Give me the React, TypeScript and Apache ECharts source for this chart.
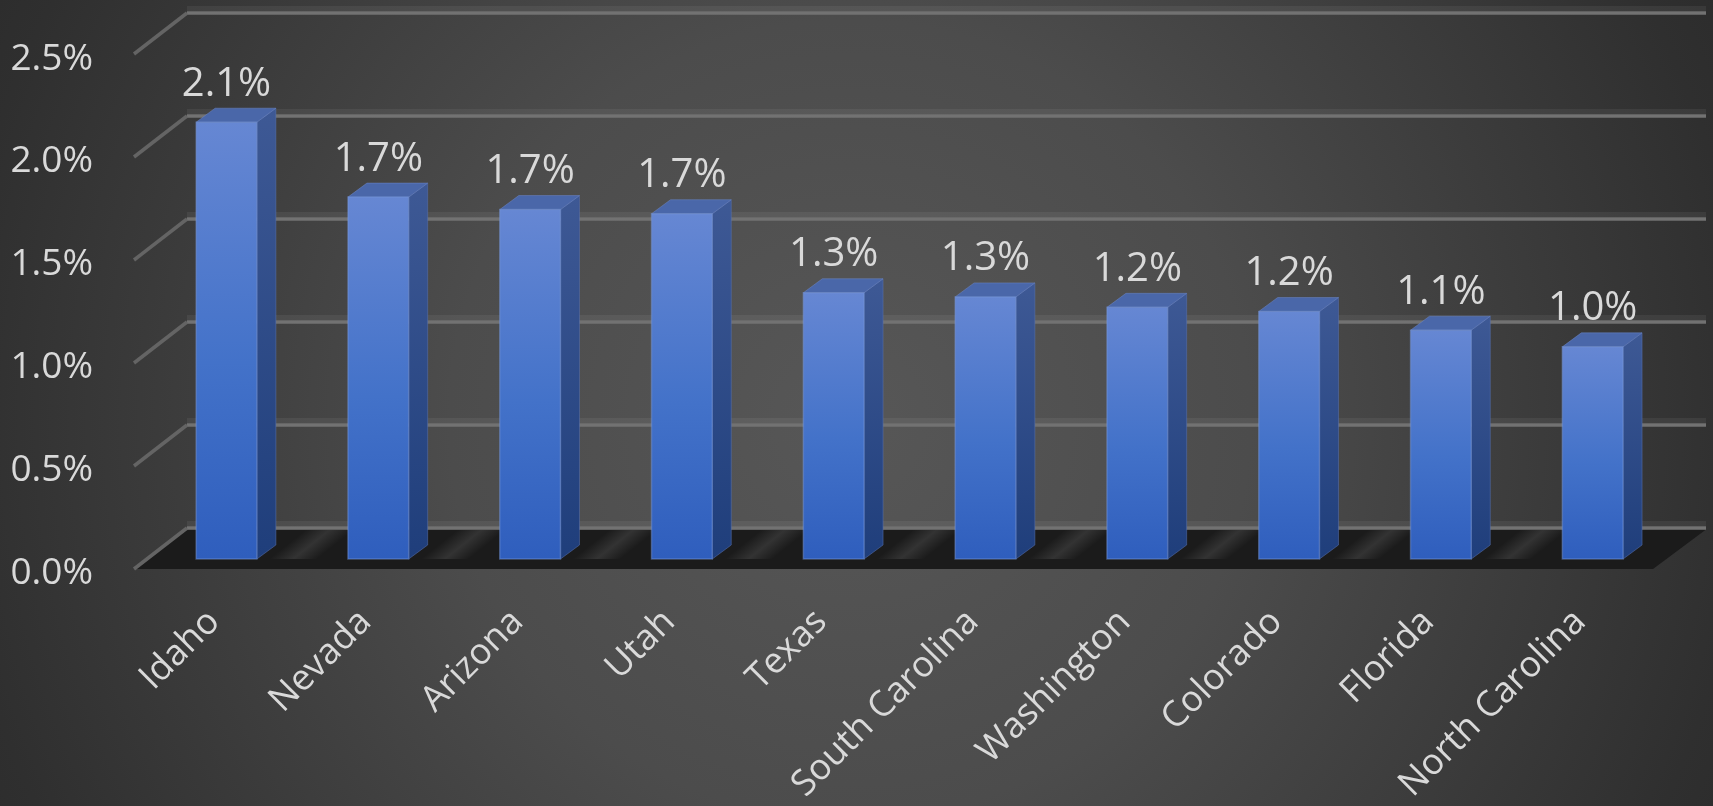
import React, { useEffect, useRef } from 'react';
import * as echarts from 'echarts';

// Population growth by state
const states = [
  'Idaho',
  'Nevada',
  'Arizona',
  'Utah',
  'Texas',
  'South Carolina',
  'Washington',
  'Colorado',
  'Florida',
  'North Carolina',
];
const growth = [2.1, 1.74, 1.68, 1.66, 1.28, 1.26, 1.21, 1.19, 1.1, 1.02];
const wallTicks = [0, 0.5, 1.0, 1.5, 2.0, 2.5];

const FONT = '"Open Sans", "Noto Sans", sans-serif';
const TEXT = '#d9d9d9';
const BAR_DEPTH = [19, -14]; // side/top face offset of each bar
const WALL_TO_FRONT = [-53, 41]; // from back wall to front edge of the floor
const BAR_RATIO = 0.4;

const pct = (v: number) => (Math.round(v * 10) / 10).toFixed(1) + '%';

export default function App() {
  const ref = useRef<HTMLDivElement>(null);

  useEffect(() => {
    if (!ref.current) return;
    const chart = echarts.init(ref.current, undefined, { renderer: 'svg' });

    const option: any = {
      animation: false,
      backgroundColor: {
        type: 'radial',
        x: 850,
        y: 420,
        r: 1000,
        global: true,
        colorStops: [
          { offset: 0, color: '#575757' },
          { offset: 0.4, color: '#4c4c4c' },
          { offset: 0.9, color: '#2f2f2f' },
          { offset: 1, color: '#2b2b2b' },
        ],
      },
      grid: [
        // back wall
        { left: 187, right: 7, top: 13, height: 515 },
        // plane of the bar fronts
        { left: 150.6, width: 1518, top: 39, height: 520 },
        // front edge carrying the value labels
        { left: 133, width: 10, top: 55, height: 514 },
      ],
      xAxis: [
        { gridIndex: 0, type: 'value', min: 0, max: 1, show: false },
        {
          gridIndex: 1,
          type: 'category',
          data: states,
          axisLine: { show: false },
          axisTick: { show: false },
          axisLabel: {
            interval: 0,
            rotate: 45,
            margin: 40,
            padding: [0, 21, 0, 0],
            color: TEXT,
            fontSize: 36,
            fontFamily: FONT,
          },
        },
        { gridIndex: 2, type: 'value', min: 0, max: 1, show: false },
      ],
      yAxis: [
        { gridIndex: 0, type: 'value', min: 0, max: 2.5, interval: 0.5, show: false },
        { gridIndex: 1, type: 'value', min: 0, max: 2.5, show: false },
        {
          gridIndex: 2,
          type: 'value',
          min: 0,
          max: 2.5,
          interval: 0.5,
          axisLine: { show: false },
          axisTick: { show: false },
          splitLine: { show: false },
          axisLabel: {
            margin: 40,
            color: TEXT,
            fontSize: 37,
            fontFamily: FONT,
            formatter: (v: number) => v.toFixed(1) + '%',
          },
        },
      ],
      series: [
        {
          // floor
          type: 'custom',
          xAxisIndex: 0,
          yAxisIndex: 0,
          z: 1,
          silent: true,
          data: [[0, 0]],
          renderItem: (_p: any, api: any) => {
            const bl = api.coord([0, 0]);
            const br = api.coord([1, 0]);
            return {
              type: 'polygon',
              shape: {
                points: [
                  [bl[0], bl[1] + 1.5],
                  [br[0], br[1] + 1.5],
                  [br[0] + WALL_TO_FRONT[0], br[1] + WALL_TO_FRONT[1]],
                  [bl[0] + WALL_TO_FRONT[0], bl[1] + WALL_TO_FRONT[1]],
                ],
              },
              style: { fill: '#1b1b1b' },
            };
          },
        },
        {
          // soft light streaks on the floor between bars
          type: 'custom',
          xAxisIndex: 1,
          yAxisIndex: 1,
          z: 2,
          silent: true,
          data: states.slice(0, -1).map((_s, i) => [i, 0]),
          renderItem: (_p: any, api: any) => {
            const i = api.value(0);
            const c = api.coord([i, 0]);
            const band = api.size([1, 0])[0];
            const bw = band * BAR_RATIO;
            const gapL = c[0] + bw / 2 + BAR_DEPTH[0];
            const gapR = c[0] + band - bw / 2;
            const xc = (gapL + gapR) / 2;
            const k = -WALL_TO_FRONT[0] / WALL_TO_FRONT[1];
            const yTop = c[1] - 29;
            const yBot = c[1];
            const hw = 24;
            const midY = c[1] - 15;
            const topX = xc + (midY - yTop) * k;
            const botX = xc - (yBot - midY) * k;
            const n = [0.62, 0.78];
            const d = 15;
            const grad = new echarts.graphic.LinearGradient(
              xc - n[0] * d,
              midY - n[1] * d,
              xc + n[0] * d,
              midY + n[1] * d,
              [
                { offset: 0, color: 'rgba(75,75,75,0)' },
                { offset: 0.5, color: 'rgba(75,75,75,0.5)' },
                { offset: 1, color: 'rgba(75,75,75,0)' },
              ],
              true
            );
            return {
              type: 'polygon',
              shape: {
                points: [
                  [topX - hw, yTop],
                  [topX + hw, yTop],
                  [botX + hw, yBot],
                  [botX - hw, yBot],
                ],
              },
              style: { fill: grad },
            };
          },
        },
        {
          // back-wall gridlines and their side-wall diagonals
          type: 'custom',
          xAxisIndex: 0,
          yAxisIndex: 0,
          z: 3,
          silent: true,
          data: wallTicks.map((v) => [0, v]),
          renderItem: (_p: any, api: any) => {
            const v = api.value(1);
            const l = api.coord([0, v]);
            const r = api.coord([1, v]);
            return {
              type: 'group',
              children: [
                {
                  type: 'rect',
                  shape: { x: l[0], y: l[1] - 7, width: r[0] - l[0], height: 5 },
                  style: { fill: 'rgba(255,255,255,0.06)' },
                },
                {
                  type: 'line',
                  shape: { x1: l[0], y1: l[1], x2: r[0], y2: r[1] },
                  style: { stroke: '#727272', lineWidth: 3.5 },
                },
                {
                  type: 'line',
                  shape: {
                    x1: l[0],
                    y1: l[1],
                    x2: l[0] + WALL_TO_FRONT[0],
                    y2: l[1] + WALL_TO_FRONT[1],
                  },
                  style: { stroke: '#646464', lineWidth: 3.5 },
                },
              ],
            };
          },
        },
        {
          // 3D bars with value labels
          type: 'custom',
          xAxisIndex: 1,
          yAxisIndex: 1,
          z: 4,
          data: growth.map((v, i) => [i, v]),
          renderItem: (_p: any, api: any) => {
            const i = api.value(0);
            const v = api.value(1);
            const base = api.coord([i, 0]);
            const top = api.coord([i, v]);
            const bw = api.size([1, 0])[0] * BAR_RATIO;
            const xl = base[0] - bw / 2;
            const xr = base[0] + bw / 2;
            const [dx, dy] = BAR_DEPTH;
            const edge = 'rgba(120,150,215,0.45)';
            return {
              type: 'group',
              children: [
                {
                  type: 'polygon',
                  shape: {
                    points: [
                      [xr, top[1]],
                      [xr + dx, top[1] + dy],
                      [xr + dx, base[1] + dy],
                      [xr, base[1]],
                    ],
                  },
                  style: {
                    fill: new echarts.graphic.LinearGradient(0, 0, 0, 1, [
                      { offset: 0, color: '#3e5995' },
                      { offset: 1, color: '#1f3e7b' },
                    ]),
                    stroke: 'rgba(90,115,180,0.5)',
                    lineWidth: 1,
                  },
                },
                {
                  type: 'polygon',
                  shape: {
                    points: [
                      [xl, top[1]],
                      [xl + dx, top[1] + dy],
                      [xr + dx, top[1] + dy],
                      [xr, top[1]],
                    ],
                  },
                  style: { fill: '#4a67a9', stroke: 'rgba(110,135,200,0.5)', lineWidth: 1 },
                },
                {
                  type: 'rect',
                  shape: { x: xl, y: top[1], width: bw, height: base[1] - top[1] },
                  style: {
                    fill: new echarts.graphic.LinearGradient(0, 0, 0, 1, [
                      { offset: 0, color: '#6687d3' },
                      { offset: 0.55, color: '#4372c9' },
                      { offset: 1, color: '#2f5ebd' },
                    ]),
                    stroke: edge,
                    lineWidth: 1.5,
                  },
                },
                {
                  type: 'text',
                  style: {
                    text: pct(v),
                    x: base[0],
                    y: top[1] + dy - 28,
                    align: 'center',
                    verticalAlign: 'middle',
                    fill: TEXT,
                    fontSize: 40,
                    fontFamily: FONT,
                  },
                },
              ],
            };
          },
        },
      ],
    };

    chart.setOption(option);
    return () => chart.dispose();
  }, []);

  return (
    <div
      ref={ref}
      style={{ position: 'fixed', left: 0, top: 0, width: '1713px', height: '806px' }}
    />
  );
}
